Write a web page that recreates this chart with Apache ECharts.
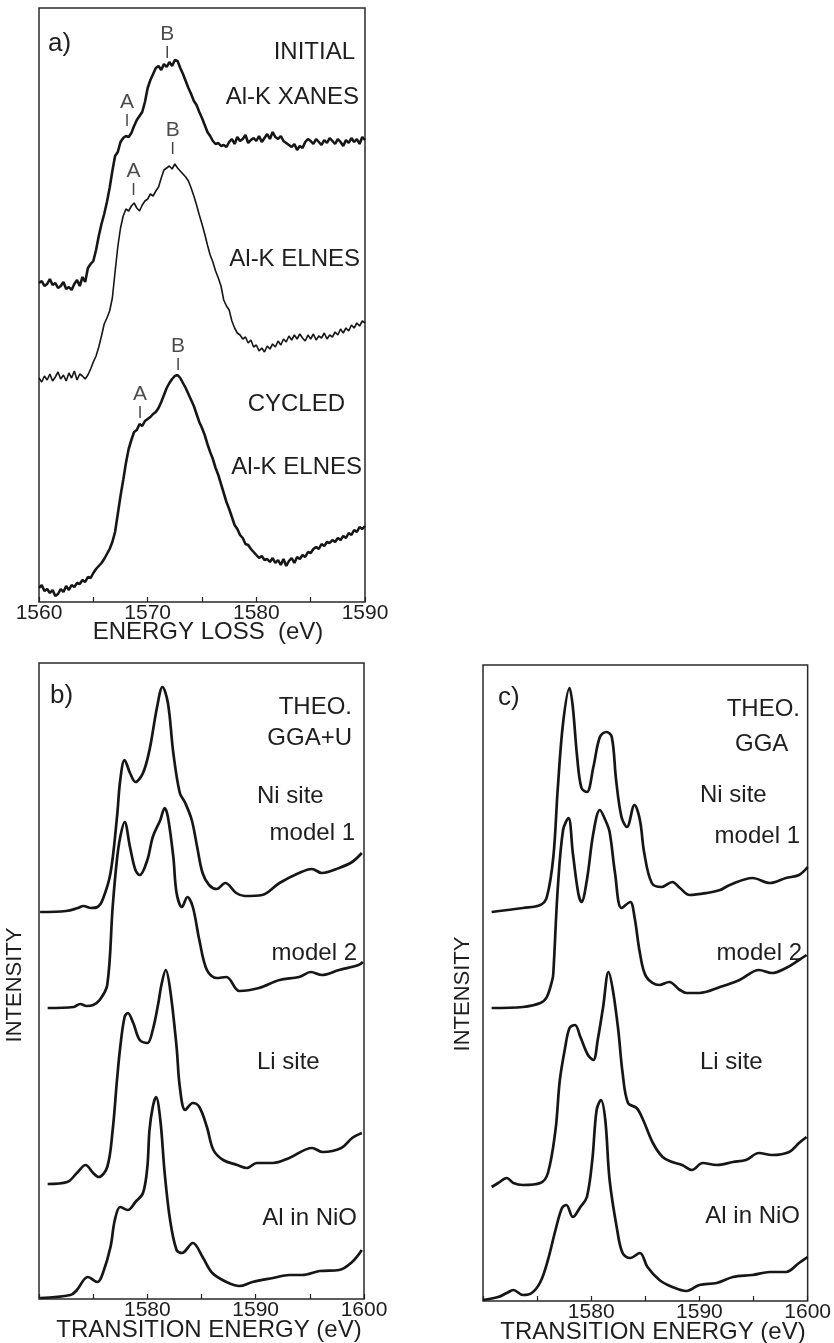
<!DOCTYPE html>
<html>
<head>
<meta charset="utf-8">
<script src="https://cdn.jsdelivr.net/npm/echarts/dist/echarts.min.js"></script>
<style>
  html, body { margin: 0; padding: 0; background: #fff; }
  #chart { width: 834px; height: 1343px; }
</style>
</head>
<body>
<div id="chart"></div>
<script>
// panel a) measured spectra, sampled every 0.25 eV from 1560 eV (arbitrary intensity units)
var lossStart = 1560, lossStep = 0.25;

var xanesInitial = [
  319, 321, 316, 318, 323, 317, 319, 314, 316, 320, 313, 315, 312, 318, 322, 316,
  325, 320, 334, 338, 341, 352, 366, 378, 388, 400, 414, 431, 446, 450, 460, 464,
  466, 465, 469, 476, 482, 486, 490, 500, 514, 522, 528, 534, 536, 532, 538, 535,
  540, 536, 542, 541, 534, 528, 521, 514, 508, 501, 497, 490, 484, 477, 470, 466,
  461, 458, 459, 456, 457, 455, 460, 463, 458, 465, 461, 463, 467, 459, 462, 464,
  461, 466, 460, 464, 468, 463, 470, 465, 463, 466, 461, 459, 457, 455, 458, 452,
  456, 454, 460, 463, 461, 458, 463, 460, 457, 462, 459, 464, 461, 458, 463, 460,
  456, 462, 459, 464, 460, 463, 458, 465, 462
];

var elnesInitial = [
  224, 220, 226, 222, 228, 221, 225, 230, 223, 227, 221, 229, 224, 231, 222, 228,
  226, 223, 227, 233, 240, 246, 255, 266, 278, 284, 291, 304, 330, 355, 374, 386,
  393, 391, 396, 399, 394, 391, 397, 401, 403, 408, 406, 411, 415, 424, 432, 434,
  436, 433, 438, 434, 431, 428, 425, 421, 414, 406, 397, 387, 378, 368, 357, 347,
  340, 331, 324, 316, 302, 296, 292, 281, 274, 269, 267, 263, 265, 259, 262, 255,
  257, 251, 254, 250, 256, 253, 258, 255, 261, 257, 263, 260, 266, 262, 267, 263,
  268, 264, 261, 267, 263, 268, 262, 266, 264, 269, 263, 267, 265, 270, 267, 273,
  269, 274, 271, 277, 274, 279, 276, 281, 279
];

var elnesCycled = [
  14, 17, 11, 13, 9, 12, 6, 8, 13, 10, 16, 12, 17, 15, 19, 18,
  22, 20, 25, 24, 29, 33, 36, 39, 43, 48, 53, 60, 70, 88, 106, 122,
  139, 153, 162, 170, 172, 178, 176, 181, 183, 185, 188, 190, 194, 200, 207, 214,
  219, 223, 226, 227, 224, 219, 214, 208, 202, 196, 188, 180, 174, 167, 158, 150,
  143, 134, 127, 118, 109, 100, 93, 85, 77, 73, 67, 64, 58, 57, 53, 50,
  47, 44, 46, 42, 43, 40, 44, 39, 42, 37, 43, 36, 41, 44, 39, 45,
  43, 47, 45, 50, 49, 53, 55, 53, 58, 56, 60, 59, 62, 60, 64, 62,
  66, 64, 69, 67, 72, 70, 75, 73, 76
];

// A / B feature markers: [energy, intensity of the marker tick]
var markersA = [
  { name: 'A', value: [1568.1, 482] }, { name: 'B', value: [1571.8, 550] },
  { name: 'A', value: [1568.7, 413] }, { name: 'B', value: [1572.3, 454] },
  { name: 'A', value: [1569.3, 190] }, { name: 'B', value: [1572.8, 238] }
];

// panel b) GGA+U calculations: [energy, intensity]
var ggaUNiModel1 = [[1570.1,387],[1572.5,388],[1573.6,391],[1574.1,393],[1574.8,391],[1575.4,392],[1575.9,400],[1576.6,426],[1577.2,482],[1577.5,519],[1577.9,539],[1578.4,526],[1578.9,517],[1579.6,526],[1580.2,549],[1580.9,592],[1581.4,612],[1581.9,596],[1582.4,546],[1583.0,506],[1583.5,496],[1584.1,479],[1584.6,452],[1585.1,426],[1585.7,414],[1586.4,410],[1587.2,416],[1588.2,406],[1589.0,403],[1590.6,404],[1592.2,416],[1594.0,426],[1595.2,430],[1596.1,426],[1597.7,431],[1598.9,437],[1599.8,446]];
var ggaUNiModel2 = [[1570.8,291],[1573.2,292],[1573.8,295],[1574.4,293],[1575.0,294],[1575.6,299],[1576.3,314],[1576.8,392],[1577.2,440],[1577.5,462],[1577.9,477],[1578.4,452],[1578.9,429],[1579.3,424],[1580.0,439],[1580.5,462],[1581.2,479],[1581.6,491],[1581.9,482],[1582.4,442],[1582.7,406],[1583.2,392],[1583.7,402],[1584.2,392],[1584.8,359],[1585.5,329],[1586.4,321],[1587.3,322],[1588.5,308],[1590.3,311],[1592.2,319],[1594.0,322],[1595.1,327],[1596.1,324],[1597.7,329],[1599.5,334],[1599.9,337]];
var ggaULiSite = [[1570.8,115],[1572.6,117],[1573.5,126],[1574.3,134],[1575.0,126],[1575.5,122],[1576.3,132],[1576.8,169],[1577.2,219],[1577.5,252],[1577.9,282],[1578.2,286],[1578.7,276],[1579.3,259],[1580.0,256],[1580.5,269],[1581.0,295],[1581.3,314],[1581.7,329],[1582.1,310],[1582.7,252],[1583.0,212],[1583.5,189],[1584.2,196],[1584.8,192],[1585.5,172],[1586.1,149],[1587.0,139],[1588.3,134],[1589.2,131],[1590.1,136],[1591.6,136],[1593.1,141],[1595.2,151],[1596.2,147],[1597.9,151],[1598.9,161],[1599.8,166]];
var ggaUAlNiO = [[1570.1,1],[1572.9,4],[1573.5,9],[1574.5,22],[1575.4,17],[1575.9,26],[1576.6,52],[1577.0,79],[1577.5,92],[1578.2,89],[1578.9,97],[1579.6,106],[1580.0,132],[1580.2,169],[1580.5,192],[1580.8,202],[1581.2,179],[1581.6,126],[1582.1,79],[1582.7,49],[1583.2,46],[1584.2,56],[1585.1,42],[1586.0,26],[1587.3,17],[1588.5,13],[1589.7,17],[1591.6,21],[1593.1,24],[1594.3,24],[1595.9,28],[1597.7,29],[1598.9,37],[1599.8,49]];

// panel c) GGA calculations: [energy, intensity]
var ggaNiModel1 = [[1570.8,389],[1573.7,393],[1575.3,396],[1575.9,404],[1576.5,444],[1576.9,511],[1577.4,578],[1578.0,613],[1578.3,594],[1578.7,544],[1579.1,513],[1579.6,509],[1580.2,534],[1580.8,564],[1581.4,569],[1581.9,564],[1582.3,521],[1582.8,484],[1583.3,474],[1584.0,496],[1584.5,481],[1584.9,448],[1585.6,418],[1586.5,414],[1587.5,419],[1588.2,413],[1589.1,406],[1590.7,408],[1591.9,411],[1592.8,416],[1594.9,423],[1596.5,418],[1598.0,423],[1599.2,426],[1600.0,434]];
var ggaNiModel2 = [[1570.8,293],[1573.7,294],[1575.3,298],[1575.9,304],[1576.4,321],[1576.5,328],[1576.9,411],[1577.4,471],[1577.9,483],[1578.3,448],[1578.8,408],[1579.1,399],[1579.6,421],[1580.2,468],[1580.8,491],[1581.3,481],[1581.7,469],[1582.2,428],[1582.8,393],[1583.6,399],[1584.0,384],[1584.5,348],[1585.1,324],[1586.3,316],[1587.2,319],[1588.2,311],[1588.8,308],[1590.0,308],[1591.9,314],[1593.7,321],[1595.5,331],[1596.7,328],[1598.0,333],[1599.2,341],[1599.9,346]];
var ggaLiSite = [[1570.8,114],[1571.4,118],[1572.2,123],[1572.8,118],[1573.7,116],[1575.3,118],[1576.0,128],[1576.7,171],[1577.1,221],[1577.6,254],[1578.0,273],[1578.5,276],[1579.0,264],[1579.7,246],[1580.2,241],[1580.6,261],[1581.1,294],[1581.6,329],[1582.0,311],[1582.5,271],[1582.9,228],[1583.4,198],[1584.2,193],[1584.8,181],[1585.7,158],[1586.6,144],[1587.5,139],[1588.4,136],[1589.3,131],[1590.3,138],[1591.6,136],[1593.1,139],[1594.3,141],[1595.5,148],[1596.7,146],[1598.3,149],[1599.2,158],[1599.9,164]];
var ggaAlNiO = [[1570.0,1],[1571.4,4],[1572.2,8],[1572.8,11],[1573.7,6],[1574.5,8],[1575.3,19],[1576.0,41],[1576.7,71],[1577.3,93],[1577.7,96],[1578.3,84],[1579.0,94],[1579.6,104],[1580.1,141],[1580.5,191],[1580.9,201],[1581.3,181],[1581.7,121],[1582.4,71],[1582.9,48],[1583.6,43],[1584.5,48],[1585.2,34],[1586.3,21],[1587.5,14],[1588.8,10],[1590.0,16],[1591.6,18],[1593.1,24],[1594.9,26],[1596.5,29],[1598.0,29],[1599.2,38],[1600.0,44]];

function lossPairs(vals) {
  return vals.map(function (v, i) { return [lossStart + i * lossStep, v]; });
}

var ink = '#161616';
var textColor = '#1e1e1e';
var fontFam = '"Liberation Sans", Arial, sans-serif';

function xAxisFor(gridIndex, min, max, hideMin) {
  return {
    type: 'value', gridIndex: gridIndex, min: min, max: max, interval: 10,
    axisLine: { show: false },
    axisTick: { show: true, inside: true, length: 5, lineStyle: { color: '#222', width: 1.2 } },
    minorTick: { show: true, splitNumber: 2, length: 5, lineStyle: { color: '#222', width: 1.2 } },
    splitLine: { show: false },
    axisLabel: {
      fontSize: 21, color: textColor, fontFamily: fontFam, margin: 1,
      showMinLabel: true, showMaxLabel: true,
      formatter: function (v) { return (hideMin && v === min) ? '' : String(v); }
    }
  };
}

function yAxisFor(gridIndex, max) {
  return { type: 'value', gridIndex: gridIndex, min: 0, max: max, show: false };
}

function curve(idx, data, width, smooth) {
  return {
    type: 'line', xAxisIndex: idx, yAxisIndex: idx, data: data,
    showSymbol: false, smooth: smooth, clip: true, silent: true,
    lineStyle: { color: ink, width: width }
  };
}

function label(text, x, y, align, size) {
  return {
    type: 'text', x: x, y: y, silent: true,
    style: {
      text: text, fill: textColor, textAlign: align || 'right',
      textVerticalAlign: 'middle', font: (size || 24) + 'px ' + fontFam
    }
  };
}

function vlabel(text, x, y) {
  var g = label(text, x, y, 'center', 22);
  g.rotation = Math.PI / 2;
  return g;
}

var chart = echarts.init(document.getElementById('chart'), null, { renderer: 'canvas' });

var gridStyle = { show: true, borderColor: '#2a2a2a', borderWidth: 1.5, backgroundColor: 'transparent' };

chart.setOption({
  animation: false,
  backgroundColor: '#fff',
  grid: [
    Object.assign({ left: 39, top: 8, width: 326, height: 594 }, gridStyle),
    Object.assign({ left: 39, top: 663, width: 325, height: 636 }, gridStyle),
    Object.assign({ left: 483, top: 665, width: 326, height: 636 }, gridStyle)
  ],
  xAxis: [
    xAxisFor(0, 1560, 1590, false),
    xAxisFor(1, 1570, 1600, true),
    xAxisFor(2, 1570, 1600, true)
  ],
  yAxis: [yAxisFor(0, 594), yAxisFor(1, 636), yAxisFor(2, 636)],
  series: [
    curve(0, lossPairs(xanesInitial), 2.6, false),
    curve(0, lossPairs(elnesInitial), 1.6, false),
    curve(0, lossPairs(elnesCycled), 2.6, false),
    {
      type: 'scatter', xAxisIndex: 0, yAxisIndex: 0, data: markersA, silent: true,
      symbol: 'rect', symbolSize: [1.5, 12],
      itemStyle: { color: ink },
      label: {
        show: true, position: 'top', distance: 1, formatter: '{b}',
        fontSize: 21, color: textColor, fontFamily: fontFam
      }
    },
    curve(1, ggaUNiModel1, 2.7, 0.35),
    curve(1, ggaUNiModel2, 2.7, 0.35),
    curve(1, ggaULiSite, 2.7, 0.35),
    curve(1, ggaUAlNiO, 2.7, 0.35),
    curve(2, ggaNiModel1, 2.7, 0.35),
    curve(2, ggaNiModel2, 2.7, 0.35),
    curve(2, ggaLiSite, 2.7, 0.35),
    curve(2, ggaAlNiO, 2.7, 0.35)
  ],
  graphic: [
    label('a)', 48, 44, 'left', 26),
    label('INITIAL', 355, 52),
    label('Al-K XANES', 359, 97),
    label('Al-K ELNES', 360, 259),
    label('CYCLED', 345, 404),
    label('Al-K ELNES', 362, 467),
    label('ENERGY LOSS  (eV)', 208, 632, 'center'),

    label('b)', 50, 696, 'left', 26),
    label('THEO.', 352, 707),
    label('GGA+U', 352, 738),
    label('Ni site', 257, 796, 'left'),
    label('model 1', 355, 833),
    label('model 2', 357, 953),
    label('Li site', 257, 1062, 'left'),
    label('Al in NiO', 357, 1218),
    label('TRANSITION ENERGY (eV)', 209, 1330, 'center'),
    vlabel('INTENSITY', 15, 985),

    label('c)', 498, 698, 'left', 26),
    label('THEO.', 800, 709),
    label('GGA', 735, 744, 'left'),
    label('Ni site', 700, 795, 'left'),
    label('model 1', 800, 836),
    label('model 2', 802, 953),
    label('Li site', 700, 1062, 'left'),
    label('Al in NiO', 800, 1216),
    label('TRANSITION ENERGY (eV)', 653, 1332, 'center'),
    vlabel('INTENSITY', 463, 994)
  ]
});
</script>
</body>
</html>
